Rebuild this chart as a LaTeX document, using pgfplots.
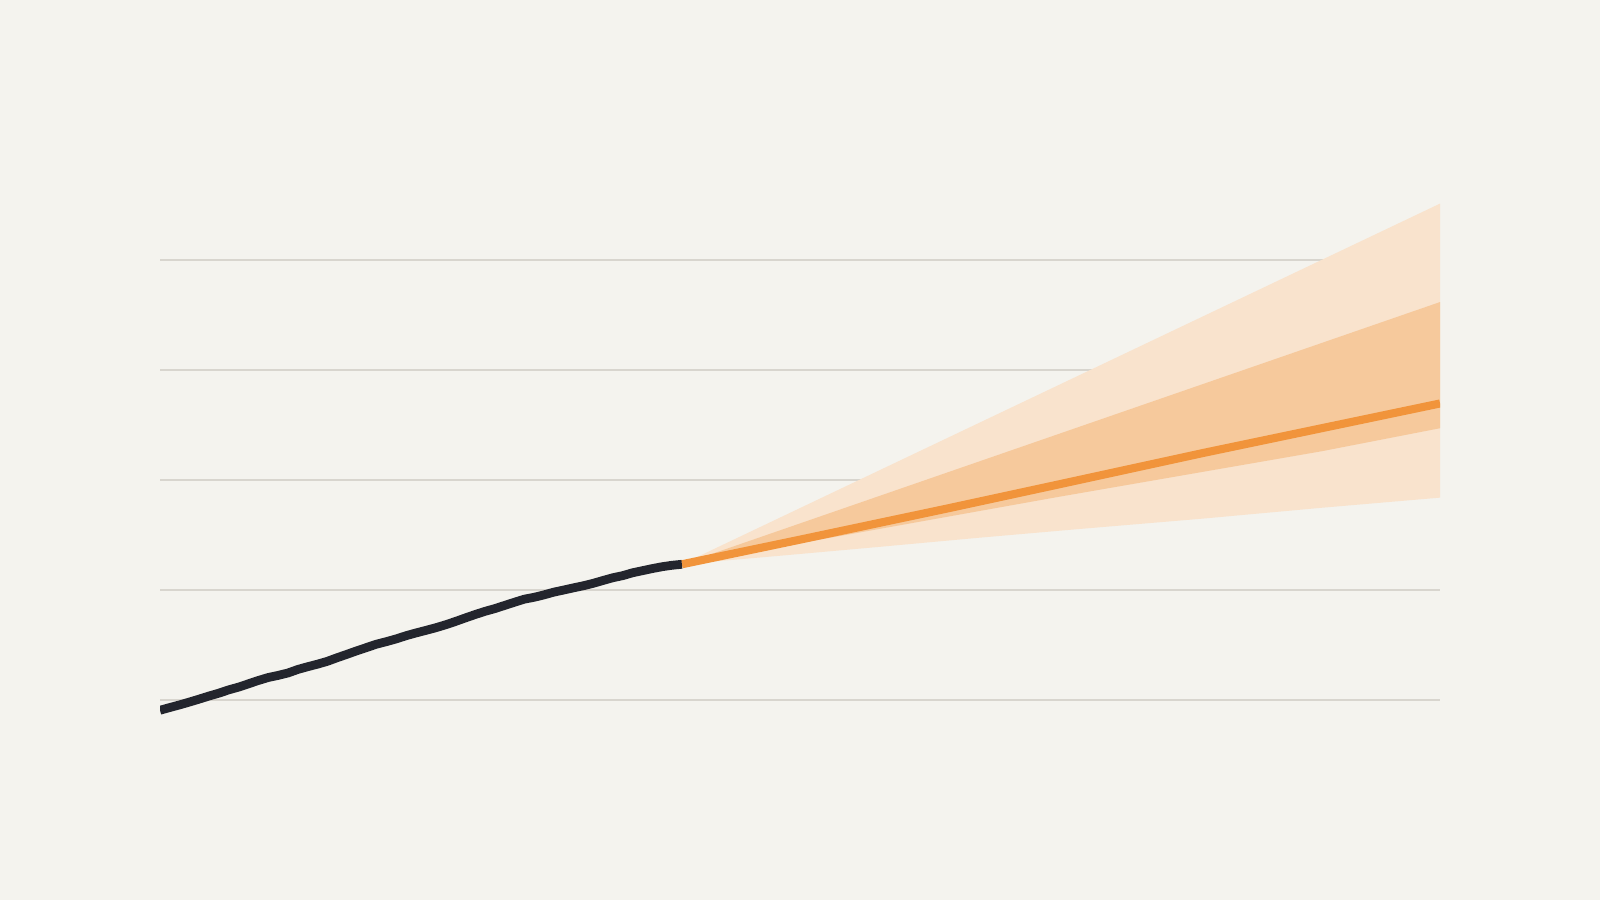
\documentclass[border=0pt]{standalone}
\usepackage{pgfplots}
\pgfplotsset{compat=1.18}
\usepackage{pgfplotstable}

\definecolor{bg}{RGB}{244,243,238}
\definecolor{gridc}{RGB}{216,213,206}
\definecolor{histc}{RGB}{35,37,45}
\definecolor{projc}{RGB}{241,148,59}
\definecolor{innerc}{RGB}{246,201,156}
\definecolor{outerc}{RGB}{249,227,205}

% history, one value per year
\pgfplotstableread{
year val
1970 -0.093
1971 -0.068
1972 -0.044
1973 -0.018
1974 0.009
1975 0.037
1976 0.063
1977 0.093
1978 0.118
1979 0.148
1980 0.178
1981 0.205
1982 0.224
1983 0.246
1984 0.278
1985 0.303
1986 0.326
1987 0.352
1988 0.385
1989 0.416
1990 0.448
1991 0.478
1992 0.508
1993 0.531
1994 0.556
1995 0.585
1996 0.610
1997 0.633
1998 0.657
1999 0.684
2000 0.714
2001 0.746
2002 0.777
2003 0.806
2004 0.831
2005 0.860
2006 0.889
2007 0.917
2008 0.934
2009 0.956
2010 0.981
2011 1.000
2012 1.020
2013 1.039
2014 1.061
2015 1.087
2016 1.112
2017 1.131
2018 1.157
2019 1.176
2020 1.195
2021 1.212
2022 1.225
2023 1.234
}\history

% central projection
\pgfplotstableread{
year val
2023 1.234
2035 1.458
2050 1.742
2061 1.955
2076 2.247
2100 2.696
}\projection

% outer band: upper edge forward, lower edge back
\pgfplotstableread{
year val
2023 1.234
2100 4.513
2100 1.840
2088 1.748
2076 1.650
2063 1.552
2053 1.474
2043 1.392
2033 1.312
2023 1.234
}\outerband

% inner band
\pgfplotstableread{
year val
2023 1.234
2100 3.618
2100 2.471
2088 2.262
2061 1.843
2023 1.234
}\innerband

\begin{document}
\begin{tikzpicture}
\fill[bg] (-1.6cm,0) rectangle (14.4cm,9cm);
\begin{axis}[
    at={(0,0)}, anchor=south west,
    scale only axis,
    width=12.8cm, height=9cm,
    xmin=1970, xmax=2100,
    ymin=-1.818, ymax=6.364,
    axis line style={draw=none},
    xtick=\empty,
    ytick={0,1,2,3,4},
    yticklabels={},
    major tick length=0pt,
    ymajorgrids,
    grid style={gridc, line width=0.6pt},
]
\addplot[draw=none, fill=outerc] table[x=year, y=val] {\outerband};
\addplot[draw=none, fill=innerc] table[x=year, y=val] {\innerband};
\addplot[projc, line width=2.3pt, no markers] table[x=year, y=val] {\projection};
\addplot[histc, line width=2.5pt, no markers] table[x=year, y=val] {\history};
\end{axis}
\end{tikzpicture}
\end{document}
